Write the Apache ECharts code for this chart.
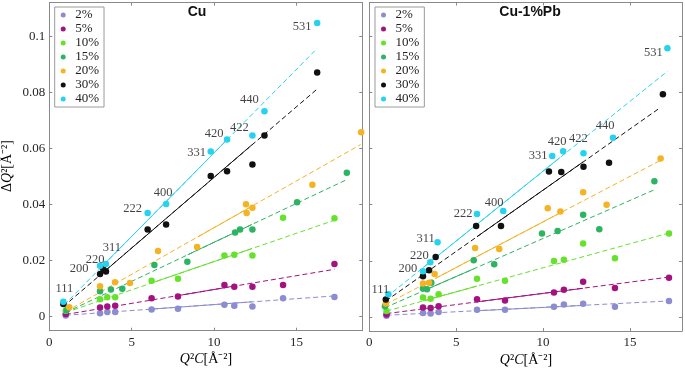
<!DOCTYPE html>
<html>
<head>
<meta charset="utf-8">
<script src="https://cdn.jsdelivr.net/npm/echarts@6/dist/echarts.min.js"></script>
<style>
html,body{margin:0;padding:0;background:#fff;}
#chart{width:685px;height:369px;}
</style>
</head>
<body>
<div id="chart"></div>
<script>
// series names (strain %)
var names = ['2%', '5%', '10%', '15%', '20%', '30%', '40%'];
var colors = ['#8c8cd0', '#a3127f', '#66e22d', '#2db462', '#f5b323', '#111111', '#25d3ef'];

// Cu : [Q2C, dQ2]
var cu2  = [[1.0,0.0004],[3.08,0.0012],[3.52,0.0017],[4.0,0.0017],[6.21,0.0026],[7.81,0.0028],[10.63,0.0043],[11.23,0.0039],[12.33,0.0036],[14.19,0.0066],[17.31,0.007]];
var cu5  = [[1.0,0.00095],[3.08,0.0033],[3.52,0.0036],[4.0,0.0039],[6.21,0.0066],[7.81,0.0072],[10.63,0.0113],[11.23,0.0107],[12.33,0.0107],[14.19,0.0113],[17.31,0.0188]];
var cu10 = [[1.0,0.0021],[3.08,0.0062],[3.52,0.0069],[4.0,0.0069],[6.21,0.0128],[7.81,0.0135],[10.63,0.0218],[11.23,0.0221],[12.33,0.0218],[14.19,0.0353],[17.31,0.0351]];
var cu15 = [[1.05,0.0023],[3.08,0.0091],[3.74,0.0097],[4.43,0.0100],[6.38,0.0184],[8.38,0.0196],[11.28,0.0300],[11.58,0.0311],[12.33,0.0311],[15.04,0.0408],[18.06,0.0513]];
var cu20 = [[1.21,0.0034],[3.08,0.0109],[3.99,0.0123],[4.9,0.012],[6.6,0.0234],[8.97,0.0249],[11.94,0.0401],[11.98,0.037],[12.33,0.0389],[15.97,0.0471],[18.93,0.0658]];
var cu30 = [[0.85,0.0045],[3.08,0.0152],[3.28,0.0169],[3.44,0.0161],[5.97,0.0311],[7.09,0.0329],[9.8,0.0502],[10.79,0.0519],[12.33,0.0543],[13.06,0.0646],[16.26,0.0871]];
var cu40 = [[0.85,0.0053],[3.08,0.0182],[3.44,0.0188],[5.97,0.037],[7.09,0.0402],[9.8,0.0589],[10.79,0.0632],[12.33,0.0646],[13.06,0.0733],[16.26,0.1048]];

// Cu-1%Pb
var pb2  = [[0.99,0.0004],[3.09,0.0014],[3.53,0.0012],[3.99,0.0018],[6.2,0.0026],[7.81,0.0026],[10.63,0.0036],[11.2,0.0044],[12.31,0.0047],[14.14,0.0036],[17.25,0.0057]];
var pb5  = [[0.99,0.0009],[3.09,0.0034],[3.53,0.0032],[3.99,0.0038],[6.2,0.0063],[7.81,0.0059],[10.63,0.0087],[11.2,0.0097],[12.31,0.0125],[14.14,0.0103],[17.25,0.014]];
var pb10 = [[0.99,0.0021],[3.09,0.0069],[3.53,0.0065],[3.99,0.0081],[6.2,0.0136],[7.81,0.0129],[10.63,0.0199],[11.2,0.0204],[12.31,0.0262],[14.14,0.0209],[17.25,0.0297]];
var pb15 = [[0.9,0.0038],[3.09,0.0101],[3.32,0.0099],[3.57,0.0122],[6.01,0.0202],[7.19,0.0188],[9.94,0.0297],[10.84,0.0306],[12.31,0.0364],[13.24,0.0312],[16.41,0.0483]];
var pb20 = [[0.95,0.0048],[3.09,0.0119],[3.44,0.0122],[3.76,0.0153],[6.09,0.0246],[7.48,0.0242],[10.27,0.0387],[11.0,0.0376],[12.31,0.0444],[13.66,0.04],[16.77,0.0564]];
var pb30 = [[0.95,0.0062],[3.09,0.0145],[3.44,0.0166],[3.82,0.0214],[6.15,0.0324],[7.58,0.0324],[10.34,0.0518],[11.05,0.0516],[12.33,0.0535],[13.8,0.0549],[16.9,0.0793]];
var pb40 = [[1.1,0.0081],[3.09,0.0163],[3.51,0.0195],[3.93,0.0266],[6.2,0.0367],[7.71,0.0377],[10.53,0.0573],[11.16,0.059],[12.33,0.0583],[14.03,0.0638],[17.16,0.0957]];

// fitted lines: whole (dashed) extent and the solid part, [[x0,y0],[x1,y1]]
var cuFitDash = [
  [[1.0,0.0005],[17.31,0.0074]],
  [[1.0,0.0008],[17.31,0.0169]],
  [[1.0,0.0015],[17.31,0.0344]],
  [[1.0,0.0015],[18.06,0.0489]],
  [[1.0,0.0018],[18.9,0.0614]],
  [[0.85,0.0036],[16.26,0.0812]],
  [[0.9,0.0042],[16.26,0.0957]]
];
var cuFitSolid = [
  [[6.2,0.0027],[12.3,0.0053]],
  [[7.8,0.0075],[11.2,0.0109]],
  [[6.2,0.0120],[12.3,0.0243]],
  [[8.4,0.0221],[12.3,0.0329]],
  [[9.0,0.0284],[12.3,0.0394]],
  [[3.4,0.0164],[12.3,0.0613]],
  [[3.4,0.0191],[10.8,0.0632]]
];
var pbFitDash = [
  [[0.99,0.0006],[17.25,0.0057]],
  [[0.99,0.0012],[17.25,0.0142]],
  [[0.99,0.0021],[17.25,0.0299]],
  [[0.9,0.0033],[16.41,0.0453]],
  [[0.95,0.0045],[16.77,0.0558]],
  [[0.95,0.0057],[16.76,0.0746]],
  [[0.99,0.0071],[17.16,0.0875]]
];
var pbFitSolid = [
  [[6.2,0.0022],[12.3,0.0041]],
  [[6.2,0.0054],[12.3,0.0102]],
  [[3.1,0.0057],[6.2,0.0110]],
  [[3.1,0.0093],[6.0,0.0171]],
  [[3.8,0.0137],[11.0,0.0371]],
  [[6.2,0.0286],[12.3,0.0552]],
  [[3.1,0.0176],[11.0,0.0569]]
];

// reflection labels, tied to points of the 40% (or 30%) series
var cuHkl = [['111',cu40,0],['200',cu30,1],['220',cu40,1],['311',cu40,2],['222',cu40,3],['400',cu40,4],['331',cu40,5],['420',cu40,6],['422',cu40,7],['440',cu40,8],['531',cu40,9]];
var pbHkl = [['111',pb40,0],['200',pb40,1],['220',pb40,2],['311',pb40,3],['222',pb40,4],['400',pb40,5],['331',pb40,6],['420',pb40,7],['422',pb40,8],['440',pb40,9],['531',pb40,10]];

// label offsets in px
var cuOff = {'111':[1,-13],'200':[-21,-5],'220':[-5,-6],'311':[6,-16],'222':[-15,-4],'400':[-3,-11],'331':[-14,1],'420':[-13,-6],'422':[-13,-8],'440':[-15,-11],'531':[-15,4]};
var pbOff = {'111':[-8,-5],'200':[-15,-2],'220':[-11,-6],'311':[-12,-4],'222':[-14,0],'400':[-9,-8],'331':[-14,0],'420':[-6,-10],'422':[-5,-15],'440':[-8,-12],'531':[-14,4]};

var cuSets = [cu2, cu5, cu10, cu15, cu20, cu30, cu40];
var pbSets = [pb2, pb5, pb10, pb15, pb20, pb30, pb40];

var serif = "'Liberation Serif', 'Times New Roman', serif";
var frame = '#8a8a8a';

var myChart = echarts.init(document.getElementById('chart'));

function axisX(grid, xmax, bottom) {
  return {
    type: 'value', gridIndex: grid, min: 0, max: xmax, interval: 5,
    position: bottom ? 'bottom' : 'top',
    axisLine: { show: true, onZero: false, lineStyle: { color: frame, width: 1 } },
    axisTick: { show: true, inside: true, length: 3, lineStyle: { color: frame } },
    splitLine: { show: false },
    axisLabel: {
      show: bottom, margin: 5, color: '#262626', fontFamily: serif, fontSize: 13,
      formatter: function (v) { return v % 5 === 0 ? String(v) : ''; }
    }
  };
}
function axisY(grid, left, labels) {
  return {
    type: 'value', gridIndex: grid, min: -0.005, max: 0.112, splitNumber: 5,
    position: left ? 'left' : 'right',
    axisLine: { show: true, onZero: false, lineStyle: { color: frame, width: 1 } },
    axisTick: { show: true, inside: true, length: 3, lineStyle: { color: frame } },
    splitLine: { show: false },
    axisLabel: {
      show: labels, margin: 4, color: '#262626', fontFamily: serif, fontSize: 13,
      formatter: function (v) {
        var k = v / 0.02;
        return Math.abs(k - Math.round(k)) < 1e-6 ? String(+v.toFixed(3)) : '';
      }
    }
  };
}

var series = [];
function addPanel(sets, dash, solid, hkl, off, xi, yi) {
  for (var i = 0; i < sets.length; i++) {
    series.push({
      type: 'line', xAxisIndex: xi, yAxisIndex: yi, data: dash[i], symbol: 'none', silent: true, z: 1,
      lineStyle: { color: colors[i], width: 1, type: [5, 3] }
    });
    series.push({
      type: 'line', xAxisIndex: xi, yAxisIndex: yi, data: solid[i], symbol: 'none', silent: true, z: 2,
      lineStyle: { color: colors[i], width: 1, type: 'solid' }
    });
  }
  for (var j = 0; j < sets.length; j++) {
    series.push({
      name: names[j], type: 'scatter', xAxisIndex: xi, yAxisIndex: yi, data: sets[j],
      symbolSize: 6.5, z: 3, itemStyle: { color: colors[j], opacity: 1 }
    });
  }
  var lab = [];
  for (var k = 0; k < hkl.length; k++) {
    var p = hkl[k][1][hkl[k][2]];
    lab.push({
      value: p, name: hkl[k][0],
      label: { offset: off[hkl[k][0]] }
    });
  }
  series.push({
    type: 'scatter', xAxisIndex: xi, yAxisIndex: yi, data: lab, symbolSize: 0, silent: true, z: 4,
    label: {
      show: true, position: 'inside', formatter: '{b}',
      color: '#111', fontFamily: serif, fontSize: 12.5
    }
  });
}

var grids = [
  { left: 49.3, top: 2.7, width: 313, height: 328 },
  { left: 369.3, top: 2.5, width: 314, height: 328.5 }
];

addPanel(cuSets, cuFitDash, cuFitSolid, cuHkl, cuOff, 0, 0);
addPanel(pbSets, pbFitDash, pbFitSolid, pbHkl, pbOff, 2, 2);

function legendAt(x) {
  return {
    data: names, orient: 'vertical', left: x, top: 7, icon: 'circle',
    itemWidth: 14, itemHeight: 5, itemGap: 0,
    padding: [1, 5, 1, 6],
    borderColor: '#9a9a9a', borderWidth: 1, backgroundColor: '#fff',
    selectedMode: false,
    textStyle: { fontFamily: serif, fontSize: 13, color: '#222', lineHeight: 14 }
  };
}

var labRich = {
  i: { fontFamily: serif, fontStyle: 'italic', fontSize: 14, color: '#333' },
  n: { fontFamily: serif, fontSize: 14, color: '#333' }
};

var option = {
  animation: false,
  backgroundColor: '#fff',
  grid: grids,
  xAxis: [axisX(0, 19, true), axisX(0, 19, false), axisX(1, 18, true), axisX(1, 18, false)],
  yAxis: [axisY(0, true, true), axisY(0, false, false), axisY(1, true, false), axisY(1, false, false)],
  legend: [legendAt(54.7), legendAt(375)],
  title: [
    { text: 'Cu', left: 197, top: 5, textAlign: 'center', padding: 0,
      textStyle: { fontFamily: "'Liberation Sans', Arial, sans-serif", fontWeight: 'bold', fontSize: 14, color: '#111' } },
    { text: 'Cu-1%Pb', left: 530, top: 5, textAlign: 'center', padding: 0,
      textStyle: { fontFamily: "'Liberation Sans', Arial, sans-serif", fontWeight: 'bold', fontSize: 14, color: '#111' } }
  ],
  graphic: [
    { type: 'text', x: 206, y: 359, style: { text: '{i|Q}{n|²}{i|C}{n|[Å⁻²]}', rich: labRich, textAlign: 'center', textVerticalAlign: 'middle' } },
    { type: 'text', x: 526, y: 360, style: { text: '{i|Q}{n|²}{i|C}{n|[Å⁻²]}', rich: labRich, textAlign: 'center', textVerticalAlign: 'middle' } },
    { type: 'text', x: 7, y: 166, rotation: Math.PI / 2, style: { text: '{n|Δ}{i|Q}{n|²[Å⁻²]}', rich: labRich, textAlign: 'center', textVerticalAlign: 'middle' } }
  ],
  series: series
};
myChart.setOption(option);
</script>
</body>
</html>
